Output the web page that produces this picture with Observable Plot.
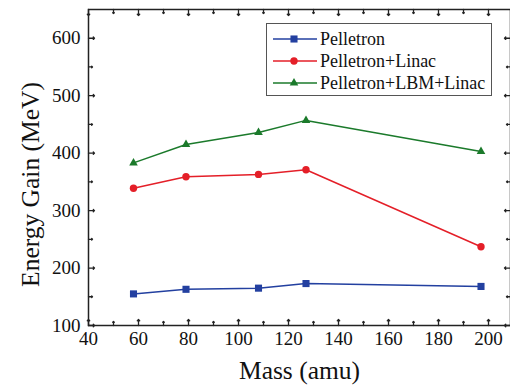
<!DOCTYPE html>
<html>
<head>
<meta charset="utf-8">
<script src="https://cdn.jsdelivr.net/npm/d3@7"></script>
<script src="https://cdn.jsdelivr.net/npm/@observablehq/plot@0.6"></script>
<style>
  html, body { margin: 0; padding: 0; background: #fff; }
  #wrap { position: relative; width: 510px; height: 391px; overflow: hidden; font-family: "Liberation Serif", serif; }
  #chart svg text { font-family: "Liberation Serif", serif !important; }
  #legend { position: absolute; left: 266px; top: 23px; width: 226px; height: 73px; border: 1.5px solid #555; background: #fff; box-sizing: border-box; }
  #legend .row { position: absolute; left: 0; height: 22px; display: flex; align-items: center; }
  #legend .row span { font-family: "Liberation Serif", serif !important; font-size: 18px; color: #111; margin-left: 1px; line-height: 22px; white-space: nowrap; }
</style>
</head>
<body>
<div id="wrap"><div id="chart"></div><div id="legend"></div></div>
<script>
// ---- data ----
const mass = [58, 79, 108, 127, 197];
const seriesNames = ["Pelletron", "Pelletron+Linac", "Pelletron+LBM+Linac"];
const pelletron = [155, 163, 165, 173, 168];
const pelletronLinac = [339, 359, 363, 371, 237];
const pelletronLbmLinac = [383, 415, 436, 457, 403];
const xTicks = [40, 60, 80, 100, 120, 140, 160, 180, 200];
const xMinorTicks = [50, 70, 90, 110, 130, 150, 170, 190];
const yTicks = [100, 200, 300, 400, 500, 600];
const yMinorTicks = [150, 250, 350, 450, 550];
const colors = ["#2340a0", "#e41f28", "#1b7a2b"];
const symbols = ["square", "circle", "triangle"];
const radii = [4, 3.7, 3.2];

const seriesValues = [pelletron, pelletronLinac, pelletronLbmLinac];
const tables = seriesValues.map((vals, i) => mass.map((m, j) => ({mass: m, gain: vals[j], series: seriesNames[i]})));

const serif = "Liberation Serif";
const tk = {strokeWidth: 1.3, stroke: "#222", anchor: "start"};
const marks = [
  Plot.frame({stroke: "#222", strokeWidth: 1.5}),
  // major / minor ticks pointing inward on all four sides
  Plot.vector(xTicks, {x: d => d, frameAnchor: "bottom", length: 6, rotate: 0, ...tk}),
  Plot.vector(xMinorTicks, {x: d => d, frameAnchor: "bottom", length: 4, rotate: 0, ...tk}),
  Plot.vector(xTicks, {x: d => d, frameAnchor: "top", length: 6, rotate: 180, ...tk}),
  Plot.vector(xMinorTicks, {x: d => d, frameAnchor: "top", length: 4, rotate: 180, ...tk}),
  Plot.vector(yTicks, {y: d => d, frameAnchor: "left", length: 6, rotate: 90, ...tk}),
  Plot.vector(yMinorTicks, {y: d => d, frameAnchor: "left", length: 4, rotate: 90, ...tk}),
  Plot.vector(yTicks, {y: d => d, frameAnchor: "right", length: 6, rotate: -90, ...tk}),
  Plot.vector(yMinorTicks, {y: d => d, frameAnchor: "right", length: 4, rotate: -90, ...tk}),
  Plot.axisX(xTicks, {tickSize: 0, tickPadding: 6, fontSize: 19, fontFamily: serif, fill: "#111", label: null}),
  Plot.axisY(yTicks, {tickSize: 0, tickPadding: 8, fontSize: 19, fontFamily: serif, fill: "#111", label: null}),
  Plot.text(["Mass (amu)"], {frameAnchor: "bottom", dy: 53, fontSize: 25.5, fontFamily: serif, fill: "#111"}),
  Plot.text(["Energy Gain (MeV)"], {frameAnchor: "left", textAnchor: "middle", rotate: -90, dx: -58, dy: 17, fontSize: 25.5, fontFamily: serif, fill: "#111"})
];
tables.forEach((t, i) => {
  marks.push(Plot.line(t, {x: "mass", y: "gain", stroke: colors[i], strokeWidth: 1.5}));
  marks.push(Plot.dot(t, {x: "mass", y: "gain", symbol: symbols[i], fill: colors[i], r: radii[i], stroke: "none"}));
});

const chart = Plot.plot({
  width: 510,
  height: 391,
  marginLeft: 88,
  marginRight: 0,
  marginTop: 9,
  marginBottom: 66,
  style: {background: "#fff", fontFamily: serif, overflow: "visible"},
  x: {domain: [40, 208.8], axis: null},
  y: {domain: [100, 650], axis: null},
  marks
});
document.getElementById("chart").appendChild(chart);

// ---- legend (HTML overlay) ----
const legend = document.getElementById("legend");
const rowTops = [4, 26, 48];
seriesNames.forEach((name, i) => {
  const row = document.createElement("div");
  row.className = "row";
  row.style.top = rowTops[i] + "px";
  const svg = d3.create("svg").attr("width", 52).attr("height", 22);
  svg.append("line").attr("x1", 6).attr("x2", 50).attr("y1", 11).attr("y2", 11).attr("stroke", colors[i]).attr("stroke-width", 1.5);
  const sym = {square: d3.symbolSquare, circle: d3.symbolCircle, triangle: d3.symbolTriangle}[symbols[i]];
  svg.append("path").attr("d", d3.symbol(sym, radii[i] * radii[i] * Math.PI)()).attr("transform", "translate(27,11)").attr("fill", colors[i]);
  row.appendChild(svg.node());
  const s = document.createElement("span");
  s.textContent = name;
  row.appendChild(s);
  legend.appendChild(row);
});
</script>
</body>
</html>
